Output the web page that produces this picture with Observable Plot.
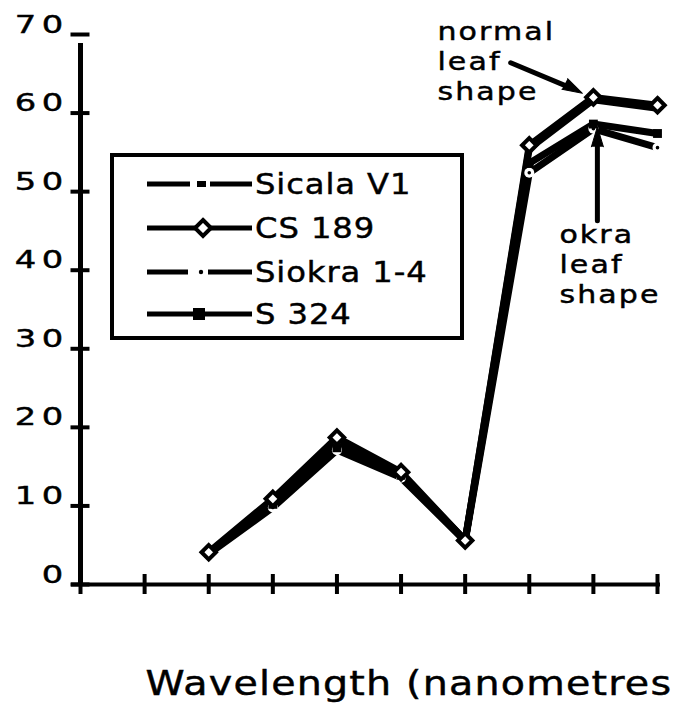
<!DOCTYPE html>
<html><head><meta charset="utf-8">
<script src="https://cdn.jsdelivr.net/npm/d3@7"></script>
<script src="https://cdn.jsdelivr.net/npm/@observablehq/plot@0.6"></script>
<style>
body{margin:0;background:#fff;}
#wrap{position:relative;width:673px;height:704px;overflow:hidden;font-family:"DejaVu Sans",sans-serif;background:#fff;}
</style></head><body><div id="wrap"></div>
<script>
// ---- data ----
const xIndex = [2, 3, 4, 5, 6, 7, 8, 9];
const xTicks = [0, 1, 2, 3, 4, 5, 6, 7, 8, 9];
const yTicks = [0, 10, 20, 30, 40, 50, 60, 70];
const seriesNames = ["Sicala V1", "CS 189", "Siokra 1-4", "S 324"];
const sicalaV1 = [4.0, 10.6, 18.3, 14.1, 5.6, 55.5, 61.7, 60.6];
const cs189    = [4.1, 10.9, 18.7, 14.3, 5.6, 55.9, 62.0, 61.0];
const siokra14 = [3.9, 9.8, 17.1, 13.6, 5.5, 52.4, 58.0, 55.6];
const s324     = [4.0, 10.2, 17.4, 13.9, 5.6, 53.6, 58.6, 57.4];
const xLabel = "Wavelength (nanometres";
const normalNote = "normal\nleaf\nshape";
const okraNote = "okra\nleaf\nshape";

const seriesValues = [sicalaV1, cs189, siokra14, s324];
const rows = seriesNames.flatMap((s, i) => seriesValues[i].map((v, j) => ({series: s, x: xIndex[j], y: v})));
const pick = name => rows.filter(d => d.series === name);
const peakIdx = 6; // the points the notes point at (x = 8)

const chart = Plot.plot({
  width: 673, height: 704,
  marginTop: 34, marginBottom: 120, marginLeft: 80, marginRight: 16,
  style: {fontFamily: "DejaVu Sans", background: "white", color: "black", overflow: "visible"},
  x: {domain: [0, 9]},
  y: {domain: [0, 70]},
  marks: [
    // axis labels and ticks
    Plot.axisY(yTicks, {tickSize: 0, tickPadding: 12, dy: -10, fontSize: 25, tickFormat: d => String(d), label: null}),
    Plot.axisY(yTicks, {tickSize: 19, dx: 9.5, strokeWidth: 4, tickFormat: () => "", label: null}),
    Plot.axisX(xTicks, {tickSize: 20, dy: -10, strokeWidth: 4, tickFormat: () => "", label: null}),
    Plot.ruleX([0], {y1: 0, y2: 70, strokeWidth: 5, insetBottom: -9}),
    Plot.ruleY([0], {x1: 0, x2: 9, strokeWidth: 4, insetLeft: -9, insetRight: -3}),
    // series lines
    Plot.line(pick("Siokra 1-4"), {x: "x", y: "y", stroke: "black", strokeWidth: 7}),
    Plot.line(pick("S 324"), {x: "x", y: "y", stroke: "black", strokeWidth: 7}),
    Plot.line(pick("Sicala V1"), {x: "x", y: "y", stroke: "black", strokeWidth: 7}),
    Plot.line(pick("CS 189"), {x: "x", y: "y", stroke: "black", strokeWidth: 7}),
    // markers
    Plot.dot(pick("Siokra 1-4"), {x: "x", y: "y", r: 5, fill: "white", stroke: "none"}),
    Plot.dot(pick("Siokra 1-4"), {x: "x", y: "y", r: 1.8, fill: "black", stroke: "none"}),
    Plot.dot(pick("S 324"), {x: "x", y: "y", symbol: "square", r: 5, fill: "black", stroke: "none"}),
    Plot.dot(pick("Sicala V1"), {x: "x", y: "y", r: 4, fill: "white", stroke: "none"}),
    Plot.dot(pick("Sicala V1"), {x: "x", y: "y", r: 1.8, fill: "black", stroke: "none"}),
    Plot.dot(pick("CS 189"), {x: "x", y: "y", symbol: "diamond2", r: 6.5, fill: "white", stroke: "black", strokeWidth: 4}),
    // annotations: notes and arrows pointing at the x = 8 points
    Plot.text([normalNote], {x: xIndex[peakIdx], y: cs189[peakIdx], text: d => d, textAnchor: "start", lineAnchor: "top", fontSize: 24, lineHeight: 1.25, dx: -156, dy: -79}),
    Plot.arrow([0], {x1: 6.71, y1: 66.4, x2: xIndex[peakIdx], y2: cs189[peakIdx], strokeWidth: 5, headLength: 0, insetEnd: 24}),
    Plot.vector([0], {x: xIndex[peakIdx], y: cs189[peakIdx], dx: -11, dy: -4, length: 20, rotate: 118, anchor: "end", shape: "spike", r: 6, fill: "black", stroke: "black", strokeWidth: 1}),
    Plot.text([okraNote], {x: xIndex[peakIdx], y: siokra14[peakIdx], text: d => d, textAnchor: "start", lineAnchor: "top", fontSize: 24, lineHeight: 1.25, dx: -34, dy: 93}),
    Plot.arrow([0], {x1: xIndex[peakIdx], y1: 46.3, x2: xIndex[peakIdx], y2: siokra14[peakIdx], dx: 4, strokeWidth: 5, headLength: 0, insetEnd: 18}),
    Plot.vector([0], {x: xIndex[peakIdx], y: siokra14[peakIdx], dx: 4, dy: -2, length: 20, rotate: 0, anchor: "end", shape: "spike", r: 6, fill: "black", stroke: "black", strokeWidth: 1}),
    // x axis title
    Plot.text([xLabel], {frameAnchor: "bottom-left", text: d => d, textAnchor: "start", dx: 65, dy: 110, fontSize: 33})
  ]
});
document.getElementById("wrap").append(chart);

// widen the glyphs to match the wide original typeface
const svg = d3.select(chart.tagName.toLowerCase() === "svg" ? chart : chart.querySelector("svg"));
function widen(sel, sx, spacing) {
  sel.each(function() {
    const t = d3.select(this);
    const tr = t.attr("transform") || "";
    t.attr("transform", tr + ` scale(${sx},1)`)
     .attr("letter-spacing", spacing)
     .attr("stroke", "black").attr("stroke-width", 0.45);
  });
}
widen(svg.selectAll('g[aria-label="y-axis tick label"] text'), 1.35, 4);
const textGroups = svg.selectAll('g[aria-label="text"]').nodes();
textGroups.forEach((g, i) => {
  const sel = d3.select(g).selectAll("text");
  if (i === textGroups.length - 1) widen(sel, 1.2, 1);   // axis title
  else widen(sel, 1.25, 1.7);                              // notes
});

// ---- legend (boxed, inside the plot area) ----
const leg = d3.select("#wrap").append("svg")
  .attr("width", 356).attr("height", 190)
  .style("position", "absolute").style("left", "110px").style("top", "153px");
leg.append("rect").attr("x", 2).attr("y", 2).attr("width", 350).attr("height", 183)
  .attr("fill", "white").attr("stroke", "black").attr("stroke-width", 4);
const rowY = [31, 75, 119, 161];
seriesNames.forEach((name, i) => {
  const g = leg.append("g").attr("transform", `translate(0,${rowY[i]})`);
  const seg = (a, b) => g.append("line").attr("x1", a).attr("x2", b).attr("y1", 0).attr("y2", 0).attr("stroke", "black").attr("stroke-width", 5);
  if (name === "Sicala V1") {
    seg(37, 80); seg(100, 142);
    g.append("rect").attr("x", 87).attr("y", -3).attr("width", 9).attr("height", 6).attr("fill", "black");
  } else if (name === "CS 189") {
    seg(37, 142);
    g.append("path").attr("d", "M93,-8L101,0L93,8L85,0Z").attr("fill", "white").attr("stroke", "black").attr("stroke-width", 4);
  } else if (name === "Siokra 1-4") {
    seg(37, 78); seg(98, 142);
    g.append("circle").attr("cx", 91).attr("cy", 0).attr("r", 2.2).attr("fill", "black");
  } else {
    seg(37, 142);
    g.append("rect").attr("x", 83).attr("y", -6).attr("width", 12).attr("height", 12).attr("fill", "black");
  }
  g.append("text").attr("transform", "translate(145,10) scale(1.15,1)").attr("font-size", 28).attr("letter-spacing", 0.8)
    .attr("font-family", "DejaVu Sans").attr("fill", "black").attr("stroke", "black").attr("stroke-width", 0.45).text(name);
});
</script></body></html>
